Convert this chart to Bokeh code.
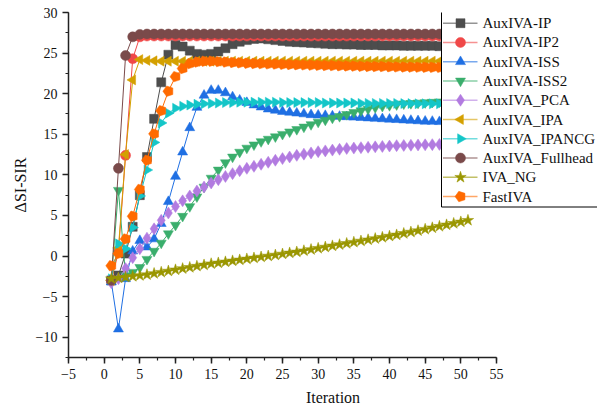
import numpy as np
from bokeh.plotting import figure
from bokeh.models import Range1d, SingleIntervalTicker, ColumnDataSource
from bokeh.core.properties import value
from bokeh.embed import file_html
from bokeh.resources import INLINE

try:
    from bokeh.models import Ngon
    HAVE_NGON = True
except ImportError:
    HAVE_NGON = False

iterations = list(range(1, 52))

auxiva_ip = [-3.0, -2.4, 0.3, 3.6, 7.5, 12.2, 16.9, 21.4, 24.8, 26.0,
             25.8, 25.3, 24.9, 24.8, 24.9, 25.2, 25.6, 26.1, 26.4, 26.6,
             26.75, 26.8, 26.7, 26.6, 26.5, 26.4, 26.35, 26.3, 26.25, 26.2,
             26.15, 26.1, 26.1, 26.05, 26.05, 26.0, 26.0, 26.0, 25.95, 25.95,
             25.95, 25.9, 25.9, 25.9, 25.9, 25.9, 25.85, 25.85, 25.85, 25.85, 25.85]
auxiva_ip2 = [-3.0, 0.5, 12.4, 24.3, 27.0, 27.1, 27.1, 27.1, 27.1, 27.1,
              27.1, 27.1, 27.1, 27.1, 27.1, 27.1, 27.1, 27.1, 27.1, 27.1,
              27.1, 27.1, 27.1, 27.1, 27.1, 27.1, 27.1, 27.1, 27.1, 27.1,
              27.1, 27.1, 27.1, 27.1, 27.1, 27.1, 27.1, 27.1, 27.1, 27.1,
              27.1, 27.1, 27.1, 27.1, 27.1, 27.1, 27.1, 27.1, 27.1, 27.1, 27.1]
auxiva_iss = [-3.2, -9.0, -2.8, 0.6, 1.9, 1.1, 2.1, 4.0, 6.7, 9.8,
              12.8, 15.8, 18.3, 19.8, 20.4, 20.4, 20.1, 19.6, 19.2, 18.9,
              18.6, 18.35, 18.1, 17.95, 17.8, 17.7, 17.6, 17.5, 17.4, 17.35,
              17.3, 17.25, 17.2, 17.15, 17.1, 17.05, 17.0, 16.95, 16.9, 16.85,
              16.8, 16.75, 16.7, 16.65, 16.6, 16.58, 16.55, 16.5, 16.48, 16.45, 16.4]
auxiva_iss2 = [-3.0, 8.1, -2.4, -2.0, -1.4, -0.4, 0.6, 1.6, 2.75, 3.8,
               4.9, 6.1, 7.3, 8.5, 9.6, 10.6, 11.5, 12.2, 12.8, 13.3,
               13.7, 14.1, 14.4, 14.7, 15.0, 15.3, 15.6, 15.9, 16.2, 16.5,
               16.75, 17.0, 17.2, 17.45, 17.7, 17.9, 18.1, 18.3, 18.45, 18.55,
               18.65, 18.75, 18.8, 18.85, 18.9, 18.95, 19.0, 19.05, 19.1, 19.1, 19.15]
auxiva_pca = [-3.3, -2.8, -1.55, -0.2, 0.9, 2.2, 3.35, 4.4, 5.3, 6.1,
              6.8, 7.4, 8.0, 8.5, 9.0, 9.4, 9.8, 10.15, 10.5, 10.8,
              11.05, 11.3, 11.55, 11.8, 12.0, 12.2, 12.4, 12.55, 12.7, 12.85,
              12.95, 13.05, 13.15, 13.25, 13.3, 13.35, 13.4, 13.45, 13.5, 13.55,
              13.6, 13.62, 13.65, 13.68, 13.7, 13.72, 13.75, 13.78, 13.8, 13.82, 13.85]
auxiva_ipa = [-3.0, 1.0, 12.5, 21.7, 24.2, 24.1, 24.05, 24.0, 24.0, 24.0,
              24.0, 24.0, 24.0, 24.0, 24.0, 24.0, 24.0, 24.0, 24.0, 24.0,
              24.0, 24.0, 24.0, 24.0, 24.0, 24.0, 24.0, 24.0, 24.0, 24.0,
              24.0, 24.0, 24.0, 24.0, 24.0, 24.0, 24.0, 24.0, 24.0, 24.0,
              24.0, 24.0, 24.0, 24.0, 24.0, 24.0, 24.0, 24.0, 24.0, 24.0, 24.0]
auxiva_ipancg = [-2.8, 1.5, 0.9, 3.5, 7.4, 10.6, 14.0, 16.4, 17.6, 18.2,
                 18.45, 18.6, 18.7, 18.75, 18.8, 18.85, 18.9, 18.9, 18.95, 18.95,
                 18.95, 18.95, 18.95, 18.95, 18.9, 18.9, 18.9, 18.9, 18.9, 18.9,
                 18.85, 18.85, 18.85, 18.85, 18.85, 18.8, 18.8, 18.8, 18.8, 18.8,
                 18.8, 18.78, 18.78, 18.76, 18.76, 18.75, 18.75, 18.74, 18.74, 18.73, 18.73]
auxiva_fullhead = [-3.0, 10.8, 24.7, 27.0, 27.3, 27.35, 27.35, 27.35, 27.35, 27.35,
                   27.35, 27.35, 27.35, 27.35, 27.35, 27.35, 27.35, 27.35, 27.35, 27.35,
                   27.35, 27.35, 27.35, 27.35, 27.35, 27.35, 27.35, 27.35, 27.35, 27.35,
                   27.35, 27.35, 27.35, 27.35, 27.35, 27.35, 27.35, 27.35, 27.35, 27.35,
                   27.35, 27.35, 27.35, 27.35, 27.35, 27.35, 27.35, 27.35, 27.35, 27.35, 27.35]
iva_ng = [-2.8, -2.7, -2.6, -2.5, -2.4, -2.3, -2.15, -2.0, -1.85, -1.7,
          -1.55, -1.4, -1.25, -1.1, -0.95, -0.85, -0.72, -0.6, -0.48, -0.36,
          -0.24, -0.12, 0.0, 0.12, 0.25, 0.38, 0.5, 0.65, 0.8, 0.95,
          1.1, 1.25, 1.4, 1.55, 1.7, 1.85, 2.0, 2.15, 2.3, 2.45,
          2.6, 2.78, 2.95, 3.12, 3.3, 3.48, 3.66, 3.84, 4.02, 4.2, 4.4]
fastiva = [-1.2, 0.3, 2.1, 4.9, 8.2, 11.8, 15.05, 17.9, 20.3, 22.1,
           23.1, 23.7, 23.9, 24.0, 24.0, 23.95, 23.9, 23.85, 23.8, 23.75,
           23.72, 23.7, 23.67, 23.65, 23.62, 23.6, 23.57, 23.55, 23.52, 23.5,
           23.48, 23.46, 23.44, 23.42, 23.4, 23.38, 23.36, 23.35, 23.34, 23.32,
           23.3, 23.29, 23.28, 23.27, 23.26, 23.25, 23.24, 23.23, 23.22, 23.21, 23.2]

series_names = ["AuxIVA-IP", "AuxIVA-IP2", "AuxIVA-ISS", "AuxIVA-ISS2", "AuxIVA_PCA",
                "AuxIVA_IPA", "AuxIVA_IPANCG", "AuxIVA_Fullhead", "IVA_NG", "FastIVA"]
series_values = [auxiva_ip, auxiva_ip2, auxiva_iss, auxiva_iss2, auxiva_pca,
                 auxiva_ipa, auxiva_ipancg, auxiva_fullhead, iva_ng, fastiva]
colors = ["#4D4D4D", "#F04848", "#1F6FE3", "#3AAE6C", "#B27BE0",
          "#D4A000", "#14C6C8", "#7A4A4A", "#9A9600", "#FF6A00"]
markers = ["square", "circle", "triangle", "inverted_triangle", "diamond",
           "triangle", "triangle", "circle", "star", "pentagon"]
angles = [0, 0, 0, 0, 0, np.pi / 2, -np.pi / 2, 0, 0, 0]
sizes = [9, 10, 10, 10, 12, 10, 10, 10, 12, 11]

FONT = "Liberation Serif"

# frame: left edge at 68 px, right edge at page edge; x = 55 falls at ~496 px
W, H = 597, 415
LEFT, TOP, BOTTOM = 68, 12, 58
X0, X55 = -5, 55
px_per_x = (496 - LEFT) / (X55 - X0)
x_max = X0 + (W - LEFT) / px_per_x
Y0, Y1 = -12.5, 30
px_per_y = (H - TOP - BOTTOM) / (Y1 - Y0)


def sx2x(sx):
    return X0 + (sx - LEFT) / px_per_x


def sy2y(sy):
    return Y1 - (sy - TOP) / px_per_y


p = figure(width=W, height=H, output_backend="svg", toolbar_location=None,
           x_range=Range1d(X0, x_max), y_range=Range1d(Y0, Y1),
           min_border_left=LEFT, min_border_right=0, min_border_top=TOP,
           min_border_bottom=BOTTOM)
p.outline_line_color = None
p.grid.visible = False
p.background_fill_color = "white"
p.border_fill_color = "white"

for ax in (p.xaxis[0], p.yaxis[0]):
    ax.ticker = SingleIntervalTicker(interval=5, num_minor_ticks=2)
    ax.axis_line_color = "#222222"
    ax.axis_line_width = 1.5
    ax.major_tick_line_color = "#222222"
    ax.major_tick_line_width = 1.5
    ax.minor_tick_line_color = "#222222"
    ax.minor_tick_line_width = 1.2
    ax.major_tick_out = 6
    ax.major_tick_in = 0
    ax.minor_tick_out = 3
    ax.minor_tick_in = 0
    ax.major_label_text_font = FONT
    ax.major_label_text_font_size = "14px"
    ax.major_label_text_color = "#111111"
    ax.axis_label_text_font = FONT
    ax.axis_label_text_font_size = "16px"
    ax.axis_label_text_font_style = "normal"
    ax.axis_label_text_color = "#111111"
    ax.major_label_standoff = 5

p.xaxis.bounds = (X0, X55)
p.xaxis.axis_label = "Iteration"
p.yaxis.axis_label = "ΔSI-SIR"
p.xaxis.axis_label_standoff = 7
p.yaxis.axis_label_standoff = 4
p.xaxis.major_label_overrides = {-5: "−5"}
p.yaxis.major_label_overrides = {-10: "−10", -5: "−5"}


def draw_markers(xs, ys, marker, angle, size, color):
    if marker == "pentagon":
        if HAVE_NGON:
            src = ColumnDataSource(dict(x=list(xs), y=list(ys)))
            g = Ngon(x="x", y="y", radius=size / 2.0, radius_units="screen", n=5,
                     angle=np.pi / 2, fill_color=color, line_color=color, line_width=0.5)
            return p.add_glyph(src, g)
        marker = "hex"
    return p.scatter(list(xs), list(ys), marker=marker, angle=angle, size=size,
                     fill_color=color, line_color=color, line_width=0.5)


# data series (drawn in legend order, later ones on top)
for vals, c, m, a, s in zip(series_values, colors, markers, angles, sizes):
    p.line(iterations, vals, line_color=c, line_width=1)
    draw_markers(iterations, vals, m, a, s, c)

# legend box (screen px geometry), drawn on top of the data
LEG_LEFT, LEG_TOP, LEG_BOTTOM = 441, 11, 206.5
ROW0, ROW_H = 22.7, 19.26
GL0, GL1, GLC, TXT = 442.5, 477, 460, 482
p.quad(left=[sx2x(LEG_LEFT)], right=[x_max + 10], top=[sy2y(LEG_TOP)],
       bottom=[sy2y(LEG_BOTTOM)], fill_color="white", line_color="black", line_width=1)

for i, (name, c, m, a, s) in enumerate(zip(series_names, colors, markers, angles, sizes)):
    cy = sy2y(ROW0 + ROW_H * i)
    p.line([sx2x(GL0), sx2x(GL1)], [cy, cy], line_color=c, line_width=1.5, line_alpha=0.6)
    draw_markers([sx2x(GLC)], [cy], m, a, s, c)
    p.text(x=[sx2x(TXT)], y=[cy], text=[name], text_font=value(FONT),
           text_font_size="15px", text_baseline="middle", text_align="left",
           text_color="#111111")

open("out.html", "w").write(file_html(p, INLINE))
